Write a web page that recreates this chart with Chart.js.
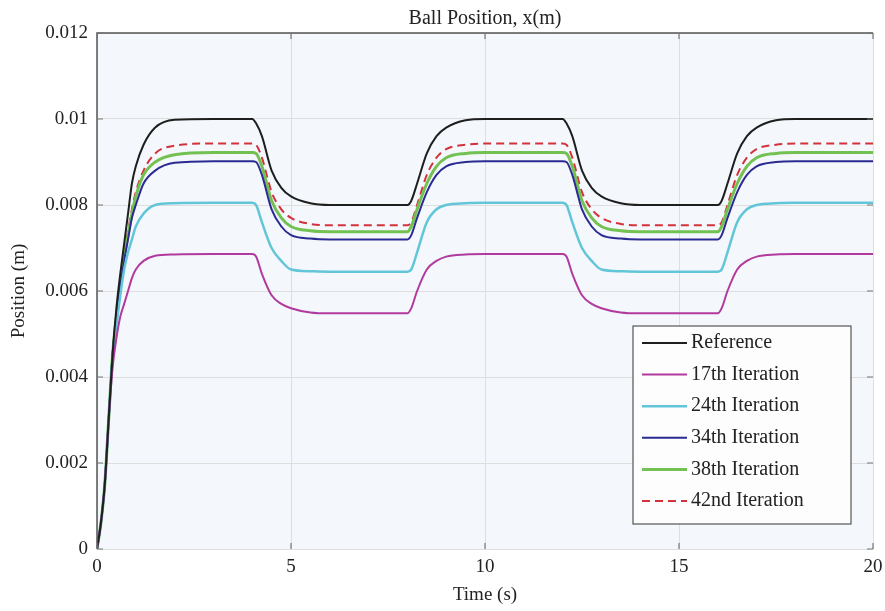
<!DOCTYPE html>
<html>
<head>
<meta charset="utf-8">
<script src="https://cdn.jsdelivr.net/npm/chart.js@4.4.1/dist/chart.umd.min.js"></script>
<style>
  html, body { margin: 0; padding: 0; background: #fff; }
  #wrap { width: 885px; height: 611px; }
</style>
</head>
<body>
<div id="wrap"><canvas id="myChart" width="885" height="611"></canvas></div>
<script>
// time samples (s)
var timeS = [0, 0.1, 0.2, 0.3, 0.4, 0.5, 0.6, 0.7, 0.8, 0.9, 1.0, 1.2, 1.5, 2, 3, 4,
  4.1, 4.25, 4.5, 4.75, 5, 5.5, 6, 7, 8,
  8.1, 8.25, 8.5, 8.75, 9, 9.5, 10, 11, 12,
  12.1, 12.25, 12.5, 12.75, 13, 13.5, 14, 15, 16,
  16.1, 16.25, 16.5, 16.75, 17, 17.5, 18, 19, 20];

var reference = [0, 0.0006, 0.0015, 0.0030, 0.0045, 0.0056, 0.0064, 0.0071, 0.0078, 0.0085, 0.0089, 0.0094, 0.0098, 0.00998, 0.01, 0.01,
  0.0099, 0.0096, 0.0088, 0.0084, 0.0082, 0.00804, 0.008, 0.008, 0.008,
  0.0081, 0.0085, 0.0092, 0.0096, 0.0098, 0.00997, 0.01, 0.01, 0.01,
  0.0099, 0.0096, 0.0088, 0.0084, 0.0082, 0.00804, 0.008, 0.008, 0.008,
  0.0081, 0.0085, 0.0092, 0.0096, 0.0098, 0.00997, 0.01, 0.01, 0.01];

var iter17 = [0, 0.0006, 0.0015, 0.0030, 0.0042, 0.0049, 0.0054, 0.0057, 0.0060, 0.0063, 0.0065, 0.0067, 0.00682, 0.00685, 0.00686, 0.00686,
  0.0068, 0.0064, 0.0059, 0.0057, 0.0056, 0.0055, 0.00548, 0.00548, 0.00548,
  0.0056, 0.0060, 0.0065, 0.0067, 0.0068, 0.00685, 0.00686, 0.00686, 0.00686,
  0.0068, 0.0064, 0.0059, 0.0057, 0.0056, 0.0055, 0.00548, 0.00548, 0.00548,
  0.0056, 0.0060, 0.0065, 0.0067, 0.0068, 0.00685, 0.00686, 0.00686, 0.00686];

var iter24 = [0, 0.0006, 0.0015, 0.0030, 0.0044, 0.0052, 0.0059, 0.0065, 0.0069, 0.0072, 0.0075, 0.0078, 0.0080, 0.00804, 0.00805, 0.00805,
  0.0080, 0.0076, 0.0070, 0.0067, 0.0065, 0.00646, 0.00645, 0.00645, 0.00645,
  0.0065, 0.0069, 0.0076, 0.0079, 0.0080, 0.00804, 0.00805, 0.00805, 0.00805,
  0.0080, 0.0076, 0.0070, 0.0067, 0.0065, 0.00646, 0.00645, 0.00645, 0.00645,
  0.0065, 0.0069, 0.0076, 0.0079, 0.0080, 0.00804, 0.00805, 0.00805, 0.00805];

var iter34 = [0, 0.0006, 0.0015, 0.0030, 0.0045, 0.0054, 0.0061, 0.0067, 0.0072, 0.0077, 0.0080, 0.0085, 0.0088, 0.00898, 0.00902, 0.00902,
  0.0090, 0.0087, 0.0079, 0.0075, 0.0073, 0.00722, 0.0072, 0.0072, 0.0072,
  0.0073, 0.0077, 0.0083, 0.0087, 0.0089, 0.0090, 0.00902, 0.00902, 0.00902,
  0.0090, 0.0087, 0.0079, 0.0075, 0.0073, 0.00722, 0.0072, 0.0072, 0.0072,
  0.0073, 0.0077, 0.0083, 0.0087, 0.0089, 0.0090, 0.00902, 0.00902, 0.00902];

var iter38 = [0, 0.0006, 0.0015, 0.0030, 0.0045, 0.0054, 0.0061, 0.0068, 0.0073, 0.0078, 0.0082, 0.0087, 0.0090, 0.00917, 0.00922, 0.00922,
  0.0092, 0.0089, 0.0081, 0.0077, 0.0075, 0.0074, 0.00738, 0.00738, 0.00738,
  0.0075, 0.0079, 0.0085, 0.0089, 0.0091, 0.0092, 0.00922, 0.00922, 0.00922,
  0.0092, 0.0089, 0.0081, 0.0077, 0.0075, 0.0074, 0.00738, 0.00738, 0.00738,
  0.0075, 0.0079, 0.0085, 0.0089, 0.0091, 0.0092, 0.00922, 0.00922, 0.00922];

var iter42 = [0, 0.0006, 0.0015, 0.0030, 0.0045, 0.0054, 0.0061, 0.0068, 0.0074, 0.0079, 0.0083, 0.0088, 0.0092, 0.00938, 0.00943, 0.00943,
  0.0094, 0.0091, 0.0083, 0.0079, 0.0077, 0.00756, 0.00753, 0.00753, 0.00753,
  0.0076, 0.0080, 0.0087, 0.0091, 0.0093, 0.0094, 0.00943, 0.00943, 0.00943,
  0.0094, 0.0091, 0.0083, 0.0079, 0.0077, 0.00756, 0.00753, 0.00753, 0.00753,
  0.0076, 0.0080, 0.0087, 0.0091, 0.0093, 0.0094, 0.00943, 0.00943, 0.00943];

var seriesLabels = ['Reference', '17th Iteration', '24th Iteration', '34th Iteration', '38th Iteration', '42nd Iteration'];
var yTickLabels = ['0', '0.002', '0.004', '0.006', '0.008', '0.01', '0.012'];
var xTickLabels = ['0', '5', '10', '15', '20'];

var SERIF = "'Liberation Serif', 'Times New Roman', serif";

function toPoints(vals) {
  return vals.map(function(v, i) { return {x: timeS[i], y: v}; });
}

function makeSet(label, vals, color, width, dash) {
  return {
    label: label,
    data: toPoints(vals),
    borderColor: color,
    backgroundColor: color,
    borderWidth: width,
    borderDash: dash || [],
    pointRadius: 0,
    fill: false,
    cubicInterpolationMode: 'monotone'
  };
}

// background, frame, inner ticks, title and legend
var framePlugin = {
  id: 'frame',
  beforeDraw: function(chart) {
    var ctx = chart.ctx, a = chart.chartArea;
    ctx.save();
    ctx.fillStyle = '#f4f8fc';
    ctx.fillRect(a.left, a.top, a.right - a.left, a.bottom - a.top);
    ctx.restore();
  },
  afterDraw: function(chart) {
    var ctx = chart.ctx, a = chart.chartArea;
    var xs = chart.scales.x, ys = chart.scales.y;
    ctx.save();
    ctx.strokeStyle = '#555';
    ctx.lineWidth = 1.5;
    ctx.beginPath();
    ctx.moveTo(a.left, a.bottom);
    ctx.lineTo(a.left, a.top);
    ctx.lineTo(a.right, a.top);
    ctx.stroke();

    ctx.lineWidth = 1.2;
    ctx.strokeStyle = '#777';
    ys.ticks.forEach(function(t) {
      var py = ys.getPixelForValue(t.value);
      ctx.beginPath();
      ctx.moveTo(a.left, py); ctx.lineTo(a.left + 6, py);
      ctx.moveTo(a.right, py); ctx.lineTo(a.right - 6, py);
      ctx.stroke();
    });
    xs.ticks.forEach(function(t) {
      var px = xs.getPixelForValue(t.value);
      ctx.beginPath();
      ctx.moveTo(px, a.bottom); ctx.lineTo(px, a.bottom - 6);
      ctx.moveTo(px, a.top); ctx.lineTo(px, a.top + 6);
      ctx.stroke();
    });

    // title
    ctx.fillStyle = '#222';
    ctx.font = '20px ' + SERIF;
    ctx.textAlign = 'center';
    ctx.textBaseline = 'middle';
    ctx.fillText('Ball Position, x(m)', (a.left + a.right) / 2, 19);

    // legend
    var bx = 633, by = 326, bw = 218, bh = 198;
    ctx.fillStyle = '#fdfdfd';
    ctx.fillRect(bx, by, bw, bh);
    ctx.strokeStyle = '#555';
    ctx.lineWidth = 1.2;
    ctx.strokeRect(bx, by, bw, bh);
    ctx.font = '20px ' + SERIF;
    ctx.textAlign = 'left';
    chart.data.datasets.forEach(function(ds, i) {
      var ry = by + 17 + i * 31.6;
      ctx.strokeStyle = ds.borderColor;
      ctx.lineWidth = ds.borderWidth;
      ctx.setLineDash(ds.borderDash);
      ctx.beginPath();
      ctx.moveTo(bx + 9, ry); ctx.lineTo(bx + 54, ry);
      ctx.stroke();
      ctx.setLineDash([]);
      ctx.fillStyle = '#222';
      ctx.fillText(ds.label, bx + 58, ry);
    });
    ctx.restore();
  }
};

var ctx = document.getElementById('myChart').getContext('2d');
var chart = new Chart(ctx, {
  type: 'line',
  data: {
    datasets: [
      makeSet(seriesLabels[0], reference, '#1e1e1e', 2),
      makeSet(seriesLabels[1], iter17, '#b23a9e', 2),
      makeSet(seriesLabels[2], iter24, '#62c6d8', 2.5),
      makeSet(seriesLabels[3], iter34, '#2b2a92', 2),
      makeSet(seriesLabels[4], iter38, '#72c152', 3),
      makeSet(seriesLabels[5], iter42, '#d2323c', 2, [8, 5])
    ]
  },
  options: {
    responsive: false,
    animation: false,
    layout: { padding: { top: 33, right: 0, left: 0, bottom: 0 } },
    plugins: {
      legend: { display: false },
      title: { display: false },
      tooltip: { enabled: false }
    },
    scales: {
      x: {
        type: 'linear',
        min: 0, max: 20,
        afterFit: function(scale) {
          scale.height = 62;
          scale.paddingLeft = 0;
          scale.paddingRight = 12;
        },
        ticks: {
          stepSize: 5,
          padding: 7,
          color: '#222',
          font: { family: SERIF, size: 19 },
          maxRotation: 0,
          callback: function(v, i) { return xTickLabels[i]; }
        },
        grid: { color: '#dedede', tickLength: 0, drawTicks: false },
        border: { display: false },
        title: {
          display: true,
          text: 'Time (s)',
          color: '#222',
          font: { family: SERIF, size: 19 },
          padding: { top: 4, bottom: 5 }
        }
      },
      y: {
        min: 0, max: 0.012,
        afterFit: function(scale) { scale.width = 97; },
        ticks: {
          stepSize: 0.002,
          padding: 9,
          color: '#222',
          font: { family: SERIF, size: 19 },
          callback: function(v, i) { return yTickLabels[i]; }
        },
        grid: { color: '#dedede', tickLength: 0, drawTicks: false },
        border: { display: false },
        title: {
          display: true,
          text: 'Position (m)',
          color: '#222',
          font: { family: SERIF, size: 19 },
          padding: { top: 8, bottom: 4 }
        }
      }
    }
  },
  plugins: [framePlugin]
});
</script>
</body>
</html>
